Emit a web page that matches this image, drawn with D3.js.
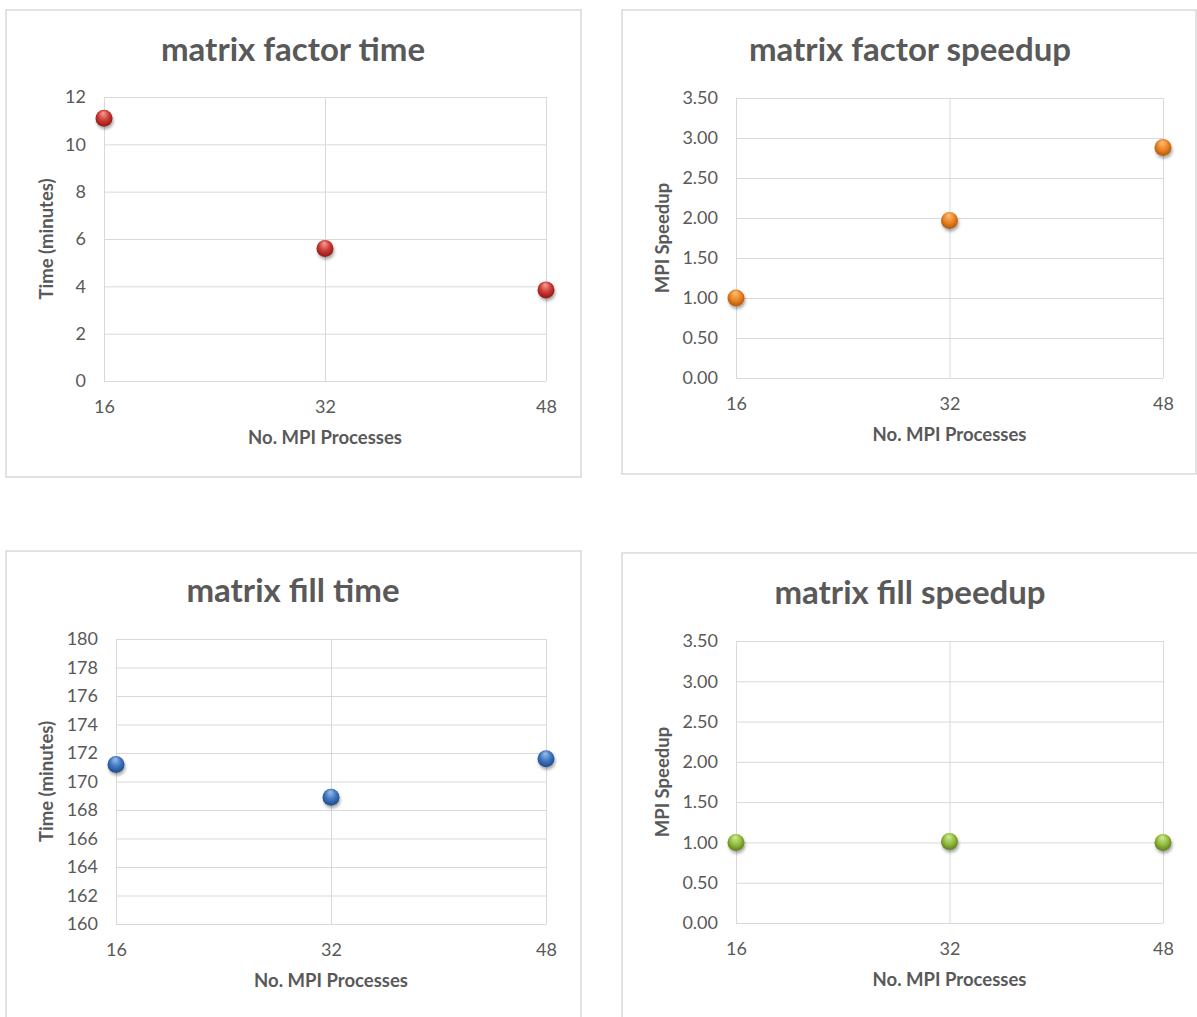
<!DOCTYPE html>
<html>
<head>
<meta charset="utf-8">
<script src="https://cdn.jsdelivr.net/npm/d3@7"></script>
<style>
  html, body { margin: 0; padding: 0; background: #ffffff; }
  svg { display: block; }
  text { font-family: Lato, "Open Sans", "Liberation Sans", sans-serif; fill: #595959; }
</style>
</head>
<body>
<svg id="chart" width="1197" height="1017"></svg>
<script>
// Process counts shared by every panel
const processes = [16, 32, 48];

// Measured series
const factorTime = [11.1, 5.6, 3.85];
const factorSpeedup = [1.00, 1.97, 2.88];
const fillTime = [171.2, 168.9, 171.6];
const fillSpeedup = [1.00, 1.01, 1.00];

// Axis tick values
const factorTimeTicks = [0, 2, 4, 6, 8, 10, 12];
const speedupTicks = [0, 0.5, 1, 1.5, 2, 2.5, 3, 3.5];
const fillTimeTicks = [160, 162, 164, 166, 168, 170, 172, 174, 176, 178, 180];

// Text
const titles = ["matrix factor time", "matrix factor speedup", "matrix fill time", "matrix fill speedup"];
const xTitle = "No. MPI Processes";
const yTitles = ["Time (minutes)", "MPI Speedup", "Time (minutes)", "MPI Speedup"];

// Sphere colours: highlight, body, rim
const palettes = {
  red:    ["#f3a29c", "#cc3a33", "#8a1713"],
  orange: ["#fbc27e", "#ec8423", "#a9550b"],
  blue:   ["#9cc1ec", "#3f76c0", "#1d4682"],
  green:  ["#d5ec99", "#93bd3e", "#5a7a1b"]
};

const panels = [
  { title: titles[0], yTitle: yTitles[0], values: factorTime, ticks: factorTimeTicks, fmt: d3.format("d"), color: "red",
    box: [6, 10, 575, 467], plot: { l: 104, r: 546, t: 97, b: 381 }, titleX: 293, titleY: 61, yTitleX: 47 },
  { title: titles[1], yTitle: yTitles[1], values: factorSpeedup, ticks: speedupTicks, fmt: d3.format(".2f"), color: "orange",
    box: [622, 10, 574, 464], plot: { l: 736, r: 1163, t: 98, b: 378 }, titleX: 910, titleY: 61, yTitleX: 663 },
  { title: titles[2], yTitle: yTitles[2], values: fillTime, ticks: fillTimeTicks, fmt: d3.format("d"), color: "blue",
    box: [6, 551, 575, 520], plot: { l: 116, r: 546, t: 639, b: 924 }, titleX: 293, titleY: 602, yTitleX: 47 },
  { title: titles[3], yTitle: yTitles[3], values: fillSpeedup, ticks: speedupTicks, fmt: d3.format(".2f"), color: "green",
    box: [622, 553, 620, 520], plot: { l: 736, r: 1163, t: 641, b: 923 }, titleX: 910, titleY: 604, yTitleX: 663 }
];

const svg = d3.select("#chart");
const defs = svg.append("defs");

// Soft shadow beneath each marker
const shadow = defs.append("filter").attr("id", "ball-shadow")
  .attr("x", "-50%").attr("y", "-50%").attr("width", "200%").attr("height", "200%");
shadow.append("feDropShadow").attr("dx", 1).attr("dy", 2.5).attr("stdDeviation", 1.6)
  .attr("flood-color", "#000").attr("flood-opacity", 0.35);

// Glossy sphere gradients
Object.entries(palettes).forEach(([name, c]) => {
  const g = defs.append("radialGradient").attr("id", "ball-" + name)
    .attr("cx", "50%").attr("cy", "45%").attr("r", "58%")
    .attr("fx", "45%").attr("fy", "18%");
  g.append("stop").attr("offset", "0%").attr("stop-color", c[0]);
  g.append("stop").attr("offset", "55%").attr("stop-color", c[1]);
  g.append("stop").attr("offset", "100%").attr("stop-color", c[2]);
});

panels.forEach(p => {
  const g = svg.append("g");
  const [bx, by, bw, bh] = p.box;

  // Chart frame
  g.append("rect").attr("x", bx).attr("y", by).attr("width", bw).attr("height", bh)
    .attr("fill", "#fff").attr("stroke", "#d9d9d9").attr("stroke-width", 1.5);

  const x = d3.scaleLinear().domain([processes[0], processes[processes.length - 1]]).range([p.plot.l, p.plot.r]);
  const y = d3.scaleLinear().domain(d3.extent(p.ticks)).range([p.plot.b, p.plot.t]);

  // Horizontal gridlines with value labels
  const yAxis = d3.axisLeft(y).tickValues(p.ticks).tickFormat(p.fmt)
    .tickSize(-(p.plot.r - p.plot.l)).tickPadding(18);
  const ya = g.append("g").attr("transform", `translate(${p.plot.l},0)`).call(yAxis);
  ya.select(".domain").remove();
  ya.selectAll(".tick line").attr("stroke", "#d9d9d9").attr("stroke-width", 1);
  ya.selectAll(".tick text").attr("font-size", 18).attr("fill", "#595959")
    .style("font-family", "Lato, 'Open Sans', sans-serif");

  // Vertical gridlines with process-count labels
  const xAxis = d3.axisBottom(x).tickValues(processes).tickFormat(d3.format("d"))
    .tickSize(-(p.plot.b - p.plot.t)).tickPadding(19);
  const xa = g.append("g").attr("transform", `translate(0,${p.plot.b})`).call(xAxis);
  xa.select(".domain").remove();
  xa.selectAll(".tick line").attr("stroke", "#d9d9d9").attr("stroke-width", 1);
  xa.selectAll(".tick text").attr("font-size", 18).attr("fill", "#595959")
    .style("font-family", "Lato, 'Open Sans', sans-serif");

  // Chart title
  g.append("text").attr("x", p.titleX).attr("y", p.titleY)
    .attr("text-anchor", "middle").attr("font-size", 33).attr("font-weight", 700)
    .text(p.title);

  // Axis titles
  g.append("text").attr("x", (p.plot.l + p.plot.r) / 2).attr("y", p.plot.b + 63)
    .attr("text-anchor", "middle").attr("font-size", 18.5).attr("font-weight", 700)
    .text(xTitle);
  g.append("text")
    .attr("transform", `translate(${p.yTitleX + 6},${(p.plot.t + p.plot.b) / 2}) rotate(-90)`)
    .attr("text-anchor", "middle").attr("font-size", 18.5).attr("font-weight", 700)
    .text(p.yTitle);

  // Markers
  g.append("g").selectAll("circle")
    .data(processes.map((n, i) => ({ n, v: p.values[i] })))
    .join("circle")
    .attr("cx", d => x(d.n)).attr("cy", d => y(d.v)).attr("r", 8.5)
    .attr("fill", `url(#ball-${p.color})`)
    .attr("filter", "url(#ball-shadow)");
});
</script>
</body>
</html>
